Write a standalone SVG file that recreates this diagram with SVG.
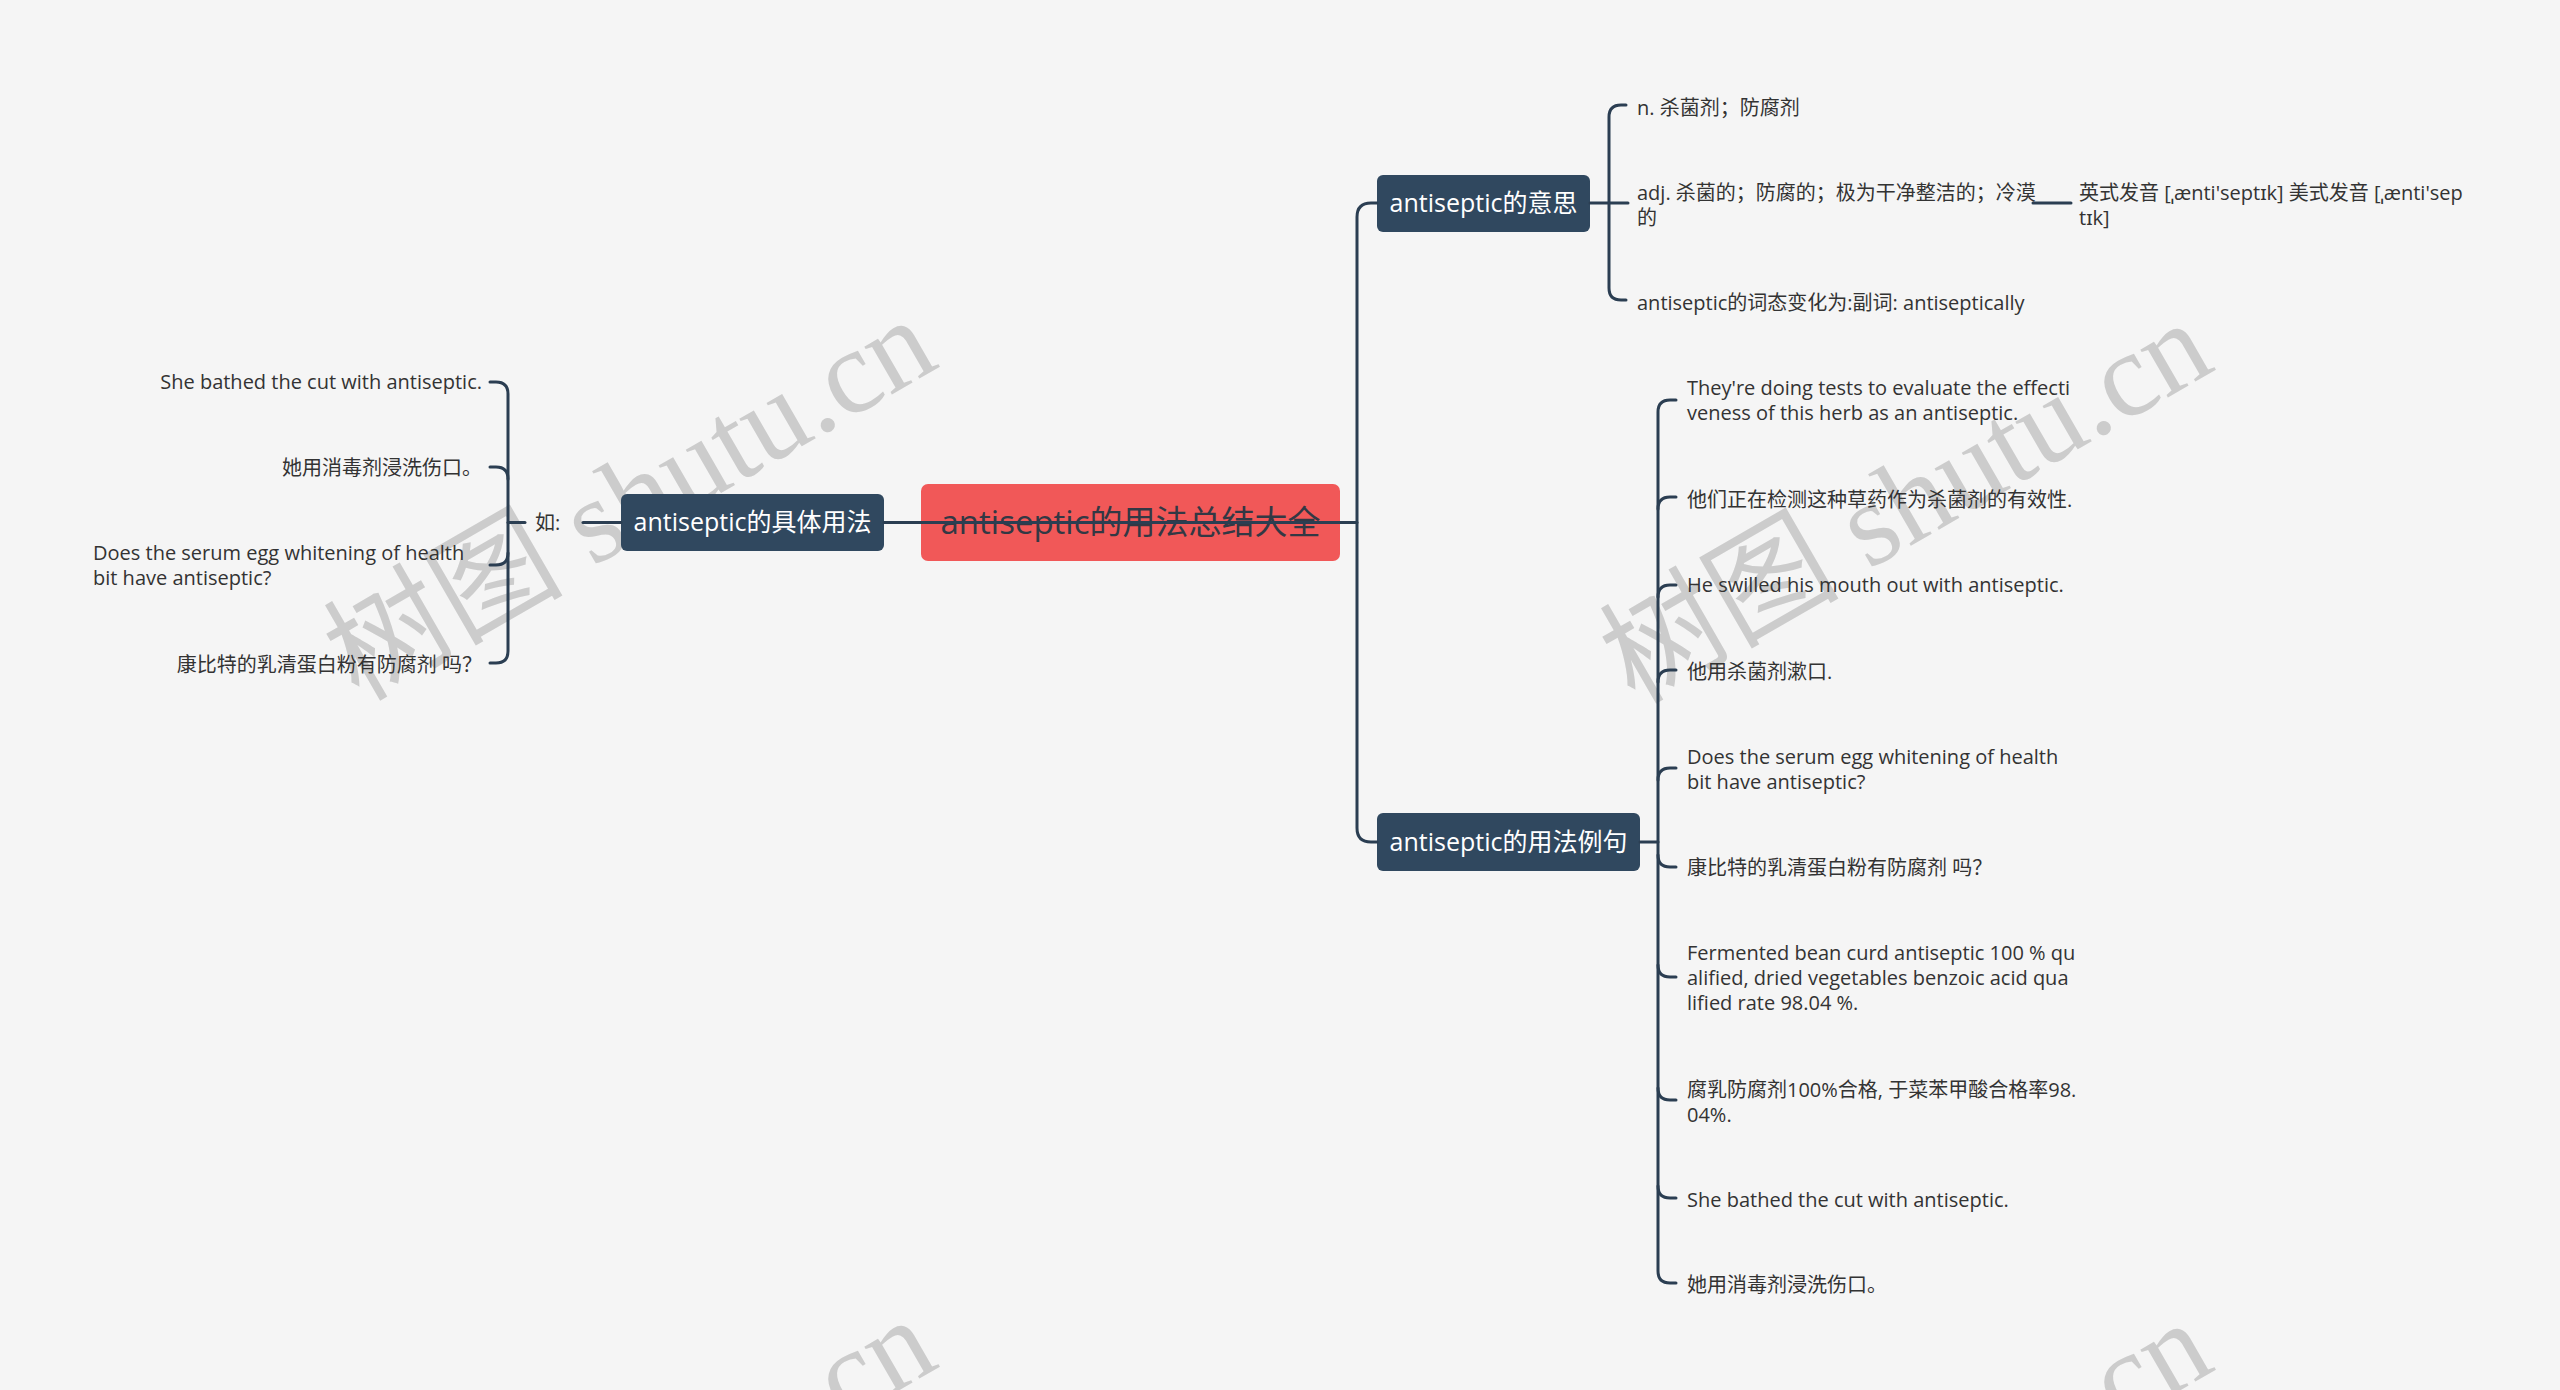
<svg xmlns="http://www.w3.org/2000/svg" width="2560" height="1390" viewBox="0 0 2560 1390">
<style>
.bg{fill:#f5f5f5}
.wm{font-family:"Liberation Serif","Noto Sans CJK SC",serif;font-size:120px;fill:#cccccc}
.root{fill:#f15858}
.rootT{font-family:"Open Sans","Noto Sans CJK SC",sans-serif;font-size:33px;fill:#333844;text-anchor:middle}
.main{fill:#30485f}
.mainT{font-family:"Open Sans","Noto Sans CJK SC",sans-serif;font-size:25px;fill:#ffffff;text-anchor:middle}
.t{font-family:"Open Sans","Noto Sans CJK SC","Noto Sans",sans-serif;font-size:20px;fill:#333333}
.r{text-anchor:end}
.c{fill:none;stroke:#2b3e52;stroke-width:3;stroke-linecap:round}
</style>
<rect class="bg" x="0" y="0" width="2560" height="1390"/>
<g id="watermarks">
<text class="wm" x="650" y="534" text-anchor="middle" transform="rotate(-30 650 534)">树图 shutu.cn</text>
<text class="wm" x="1926" y="537" text-anchor="middle" transform="rotate(-30 1926 537)">树图 shutu.cn</text>
<text class="wm" x="650" y="1534" text-anchor="middle" transform="rotate(-30 650 1534)">树图 shutu.cn</text>
<text class="wm" x="1926" y="1537" text-anchor="middle" transform="rotate(-30 1926 1537)">树图 shutu.cn</text>
</g>
<g id="node-root">
<rect class="root" x="921" y="484" width="419" height="77" rx="7"/>
<text class="rootT" x="1130.5" y="534">antiseptic的用法总结大全</text>
</g>
<g id="node-meaning">
<rect class="main" x="1377" y="175" width="213" height="57" rx="6"/>
<text class="mainT" x="1483.5" y="212">antiseptic的意思</text>
</g>
<g id="node-usage">
<rect class="main" x="621" y="494" width="263" height="57" rx="6"/>
<text class="mainT" x="752.5" y="531">antiseptic的具体用法</text>
</g>
<g id="node-examples">
<rect class="main" x="1377" y="813" width="263" height="58" rx="6"/>
<text class="mainT" x="1508.5" y="851">antiseptic的用法例句</text>
</g>
<g id="node-m1"><text class="t" x="1637" y="115">n. 杀菌剂；防腐剂</text></g>
<g id="node-m2"><text class="t" x="1637" y="200">adj. 杀菌的；防腐的；极为干净整洁的；冷漠<tspan x="1637" y="225">的</tspan></text></g>
<g id="node-m2a"><text class="t" x="2079" y="200">英式发音 [ˌænti'septɪk] 美式发音 [ˌænti'sep<tspan x="2079" y="225">tɪk]</tspan></text></g>
<g id="node-m3"><text class="t" x="1637" y="310">antiseptic的词态变化为:副词: antiseptically</text></g>
<g id="node-ru"><text class="t" x="535" y="530">如:</text></g>
<g id="node-l1"><text class="t r" x="482" y="389">She bathed the cut with antiseptic.</text></g>
<g id="node-l2"><text class="t r" x="482" y="475">她用消毒剂浸洗伤口。</text></g>
<g id="node-l3"><text class="t" x="93" y="560">Does the serum egg whitening of health<tspan x="93" y="585">bit have antiseptic?</tspan></text></g>
<g id="node-l4"><text class="t r" x="482" y="672">康比特的乳清蛋白粉有防腐剂 吗？</text></g>
<g id="node-e1"><text class="t" x="1687" y="395">They're doing tests to evaluate the effecti<tspan x="1687" y="420">veness of this herb as an antiseptic.</tspan></text></g>
<g id="node-e2"><text class="t" x="1687" y="507">他们正在检测这种草药作为杀菌剂的有效性.</text></g>
<g id="node-e3"><text class="t" x="1687" y="592">He swilled his mouth out with antiseptic.</text></g>
<g id="node-e4"><text class="t" x="1687" y="679">他用杀菌剂漱口.</text></g>
<g id="node-e5"><text class="t" x="1687" y="764">Does the serum egg whitening of health<tspan x="1687" y="789">bit have antiseptic?</tspan></text></g>
<g id="node-e6"><text class="t" x="1687" y="875">康比特的乳清蛋白粉有防腐剂 吗？</text></g>
<g id="node-e7"><text class="t" x="1687" y="960">Fermented bean curd antiseptic 100 % qu<tspan x="1687" y="985">alified, dried vegetables benzoic acid qua</tspan><tspan x="1687" y="1010">lified rate 98.04 %.</tspan></text></g>
<g id="node-e8"><text class="t" x="1687" y="1097">腐乳防腐剂100%合格, 于菜苯甲酸合格率98.<tspan x="1687" y="1122">04%.</tspan></text></g>
<g id="node-e9"><text class="t" x="1687" y="1207">She bathed the cut with antiseptic.</text></g>
<g id="node-e10"><text class="t" x="1687" y="1292">她用消毒剂浸洗伤口。</text></g>
<g id="connectors">
<path class="c" d="M884,522.5 H1357"/>
<path class="c" d="M1377,203 H1371 Q1357,203 1357,217 V828 Q1357,842 1371,842 H1377"/>
<path class="c" d="M1590,203 H1628"/>
<path class="c" d="M1626,105 H1621 Q1609,105 1609,117 V288 Q1609,300 1621,300 H1626"/>
<path class="c" d="M2033,203 H2071"/>
<path class="c" d="M1640,842 H1658"/>
<path class="c" d="M1676,400 H1670 Q1658,400 1658,412 V1271 Q1658,1283 1670,1283 H1676"/>
<path class="c" d="M1658,509 Q1658,497 1670,497 H1676"/>
<path class="c" d="M1658,597 Q1658,585 1670,585 H1676"/>
<path class="c" d="M1658,682 Q1658,670 1670,670 H1676"/>
<path class="c" d="M1658,780 Q1658,768 1670,768 H1676"/>
<path class="c" d="M1658,855 Q1658,867 1670,867 H1676"/>
<path class="c" d="M1658,965 Q1658,977 1670,977 H1676"/>
<path class="c" d="M1658,1088 Q1658,1100 1670,1100 H1676"/>
<path class="c" d="M1658,1186 Q1658,1198 1670,1198 H1676"/>
<path class="c" d="M583,522.5 H621"/>
<path class="c" d="M525,522.5 H508"/>
<path class="c" d="M490,382 H496 Q508,382 508,394 V651 Q508,663 496,663 H490"/>
<path class="c" d="M508,479 Q508,467 496,467 H490"/>
<path class="c" d="M508,553 Q508,565 496,565 H490"/>
</g>
</svg>
